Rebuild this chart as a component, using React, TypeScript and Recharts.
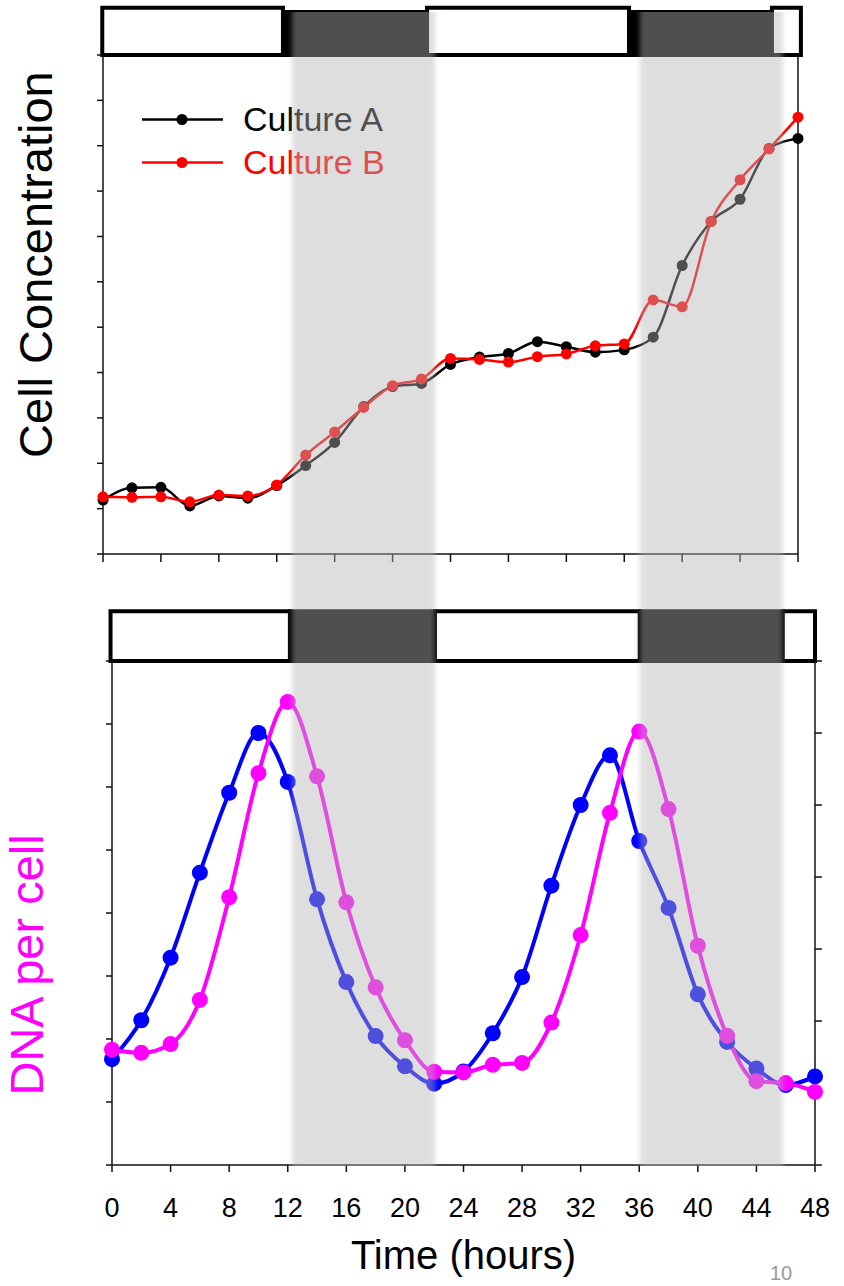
import React from 'react';
import { ComposedChart, Line, XAxis, YAxis, ReferenceArea, Legend } from 'recharts';

// sampling times (hours)
const hours = [0, 2, 4, 6, 8, 10, 12, 14, 16, 18, 20, 22, 24, 26, 28, 30, 32, 34, 36, 38, 40, 42, 44, 46, 48];

// top panel: cell concentration (arbitrary units)
const cultureA = [1.19, 1.46, 1.47, 1.06, 1.28, 1.23, 1.51, 1.95, 2.46, 3.25, 3.69, 3.76, 4.18, 4.34, 4.42, 4.68, 4.57, 4.45, 4.5, 4.78, 6.36, 7.33, 7.82, 8.94, 9.16];
const cultureB = [1.26, 1.25, 1.26, 1.15, 1.3, 1.28, 1.52, 2.18, 2.69, 3.23, 3.71, 3.86, 4.31, 4.29, 4.23, 4.35, 4.41, 4.59, 4.63, 5.6, 5.45, 7.33, 8.25, 8.93, 9.63];

// bottom panel: DNA per cell (left axis) and the blue trace (right axis)
const dnaPerCell = [1.83, 1.78, 1.92, 2.62, 4.25, 6.22, 7.35, 6.17, 4.17, 2.82, 1.98, 1.48, 1.47, 1.59, 1.62, 2.26, 3.65, 5.59, 6.88, 5.65, 3.48, 2.05, 1.33, 1.3, 1.16];
const blueTrace = [1.47, 2.01, 2.88, 4.06, 5.17, 6.0, 5.32, 3.69, 2.54, 1.79, 1.37, 1.13, 1.3, 1.83, 2.61, 3.88, 5.0, 5.69, 4.5, 3.57, 2.37, 1.71, 1.34, 1.11, 1.23];

const timeTicks = [0, 4, 8, 12, 16, 20, 24, 28, 32, 36, 40, 44, 48];
const concTicks = [0, 1, 2, 3, 4, 5, 6, 7, 8, 9, 10, 11];
const dnaTicks = [0, 1, 2, 3, 4, 5, 6, 7, 8];
const blueTicks = [0, 1, 2, 3, 4, 5, 6, 7];

// light / dark schedule bars (hours)
const topSchedule = [
  { from: -0.05, to: 12.43, dark: false },
  { from: 12.43, to: 22.38, dark: true },
  { from: 22.38, to: 36.33, dark: false },
  { from: 36.33, to: 46.2, dark: true },
  { from: 46.2, to: 48.2, dark: false },
];
const bottomSchedule = [
  { from: -0.1, to: 12.15, dark: false },
  { from: 12.15, to: 22.05, dark: true },
  { from: 22.05, to: 36.04, dark: false },
  { from: 36.04, to: 45.8, dark: true },
  { from: 45.8, to: 48, dark: false },
];
// shaded dark periods running through both panels
const darkPeriods = [
  { from: 12.29, to: 22.05 },
  { from: 36.04, to: 45.8 },
];

const FONT = '"Liberation Sans", Arial, Helvetica, sans-serif';
const AXIS = '#111';

const topData = hours.map((t, i) => ({ t, a: cultureA[i], b: cultureB[i] }));
const bottomData = hours.map((t, i) => ({ t, dna: dnaPerCell[i], blue: blueTrace[i] }));
const overlayData = hours.map((t) => ({ t, v: 0 }));

const noTickText = () => <g />;

const renderLegend = ({ payload }: any) => (
  <div style={{ fontFamily: FONT }}>
    {(payload || []).map((entry: any) => (
      <div key={entry.value} style={{ display: 'flex', alignItems: 'center', height: 43 }}>
        <svg width={82} height={43}>
          <line x1={0} x2={81} y1={21.5} y2={21.5} stroke={entry.color} strokeWidth={2.5} />
          <circle cx={40} cy={21.5} r={5.5} fill={entry.color} />
        </svg>
        <span style={{ marginLeft: 19, fontSize: 34, color: entry.color, lineHeight: '43px' }}>{entry.value}</span>
      </div>
    ))}
  </div>
);

const concLabel = ({ viewBox }: any) => {
  const x = viewBox.x + viewBox.width - 51;
  const y = viewBox.y + viewBox.height * 0.42;
  return (
    <text x={x} y={y} transform={`rotate(-90 ${x} ${y})`} textAnchor="middle" fontSize={47} fill="#000" fontFamily={FONT}>
      Cell Concentration
    </text>
  );
};

const dnaLabel = ({ viewBox }: any) => {
  const x = viewBox.x + viewBox.width - 69;
  const y = viewBox.y + viewBox.height * 0.603;
  return (
    <text x={x} y={y} transform={`rotate(-90 ${x} ${y})`} textAnchor="middle" fontSize={47} fill="#ff00ff" fontFamily={FONT}>
      DNA per cell
    </text>
  );
};

const timeLabel = ({ viewBox }: any) => (
  <g>
    <text x={viewBox.x + viewBox.width / 2} y={viewBox.y + 104} textAnchor="middle" fontSize={40} fill="#000" fontFamily={FONT}>
      Time (hours)
    </text>
    <text x={viewBox.x + viewBox.width - 34} y={viewBox.y + 115} textAnchor="middle" fontSize={20} fill="#999" fontFamily={FONT}>
      10
    </text>
  </g>
);

const bandShape = (props: any) => {
  const { x, y, width, height } = props;
  if (![x, y, width, height].every((v) => Number.isFinite(v))) return <g />;
  const id = `band-edge-${Math.round(x)}`;
  return (
    <g>
      <defs>
        <filter id={id} filterUnits="userSpaceOnUse" x={x - 15} y={y} width={width + 30} height={height}>
          <feGaussianBlur stdDeviation="2.5 0" />
        </filter>
      </defs>
      <rect x={x} y={y} width={width} height={height} fill="#b4b4b4" fillOpacity={0.44} filter={`url(#${id})`} />
    </g>
  );
};

function TopPanel() {
  return (
    <ComposedChart width={844} height={582} data={topData} margin={{ top: 55, right: 40, bottom: 18, left: 93 }}>
      <XAxis
        type="number"
        dataKey="t"
        domain={[0, 48]}
        ticks={timeTicks}
        tick={noTickText}
        tickSize={8}
        height={10}
        axisLine={{ stroke: AXIS, strokeWidth: 1.5 }}
        tickLine={{ stroke: AXIS, strokeWidth: 1.5 }}
      />
      <YAxis
        yAxisId="l"
        domain={[0, 11]}
        ticks={concTicks}
        tick={noTickText}
        tickSize={6}
        width={10}
        axisLine={{ stroke: AXIS, strokeWidth: 1.5 }}
        tickLine={{ stroke: AXIS, strokeWidth: 1.5 }}
        label={concLabel}
      />
      <YAxis
        yAxisId="r"
        orientation="right"
        domain={[0, 11]}
        tick={false}
        tickLine={false}
        width={6}
        axisLine={{ stroke: AXIS, strokeWidth: 1.5 }}
      />
      {topSchedule.map((s) => (
        <ReferenceArea
          key={`ts-${s.from}`}
          yAxisId="l"
          x1={s.from}
          x2={s.to}
          y1={11}
          y2={s.dark ? 11.95 : 12.04}
          ifOverflow="visible"
          fill={s.dark ? '#000' : '#fff'}
          fillOpacity={1}
          stroke="#000"
          strokeWidth={4}
        />
      ))}
      <Line
        yAxisId="l"
        type="monotone"
        dataKey="a"
        name="Culture A"
        stroke="#000"
        strokeWidth={2.5}
        dot={{ r: 5.5, fill: '#000', stroke: '#000', strokeWidth: 0 }}
        activeDot={false}
        isAnimationActive={false}
      />
      <Line
        yAxisId="l"
        type="monotone"
        dataKey="b"
        name="Culture B"
        stroke="#ff0000"
        strokeWidth={2.5}
        dot={{ r: 5.5, fill: '#ff0000', stroke: '#ff0000', strokeWidth: 0 }}
        activeDot={false}
        isAnimationActive={false}
      />
      <Legend
        layout="vertical"
        align="center"
        verticalAlign="middle"
        wrapperStyle={{ left: 142, top: 98, width: 300 }}
        content={renderLegend}
      />
    </ComposedChart>
  );
}

function BottomPanel() {
  return (
    <ComposedChart width={844} height={704} data={bottomData} margin={{ top: 79, right: 19, bottom: 61, left: 102 }}>
      <XAxis
        type="number"
        dataKey="t"
        domain={[0, 48]}
        ticks={timeTicks}
        interval={0}
        tick={{ fontSize: 27, fill: '#000', fontFamily: FONT }}
        tickSize={7}
        tickMargin={26}
        height={60}
        axisLine={{ stroke: AXIS, strokeWidth: 1.5 }}
        tickLine={{ stroke: AXIS, strokeWidth: 1.5 }}
        label={timeLabel}
      />
      <YAxis
        yAxisId="l"
        domain={[0, 8]}
        ticks={dnaTicks}
        tick={noTickText}
        tickSize={6}
        width={10}
        axisLine={{ stroke: AXIS, strokeWidth: 1.5 }}
        tickLine={{ stroke: AXIS, strokeWidth: 1.5 }}
        label={dnaLabel}
      />
      <YAxis
        yAxisId="r"
        orientation="right"
        domain={[0, 7]}
        ticks={blueTicks}
        tick={noTickText}
        tickSize={7}
        width={10}
        axisLine={{ stroke: AXIS, strokeWidth: 1.5 }}
        tickLine={{ stroke: AXIS, strokeWidth: 1.5 }}
      />
      {bottomSchedule.map((s) => (
        <ReferenceArea
          key={`bs-${s.from}`}
          yAxisId="l"
          x1={s.from}
          x2={s.to}
          y1={8}
          y2={8.79}
          ifOverflow="visible"
          fill={s.dark ? '#000' : '#fff'}
          fillOpacity={1}
          stroke="#000"
          strokeWidth={4}
        />
      ))}
      <Line
        yAxisId="r"
        type="monotone"
        dataKey="blue"
        name="Blue trace"
        stroke="#0000ff"
        strokeWidth={4}
        dot={{ r: 8, fill: '#0000ff', stroke: '#0000ff', strokeWidth: 0 }}
        activeDot={false}
        isAnimationActive={false}
      />
      <Line
        yAxisId="l"
        type="monotone"
        dataKey="dna"
        name="DNA per cell"
        stroke="#ff00ff"
        strokeWidth={4}
        dot={{ r: 8, fill: '#ff00ff', stroke: '#ff00ff', strokeWidth: 0 }}
        activeDot={false}
        isAnimationActive={false}
      />
    </ComposedChart>
  );
}

function DarkOverlay() {
  return (
    <ComposedChart width={844} height={1286} data={overlayData} margin={{ top: 12, right: 29, bottom: 120, left: 112 }}>
      <XAxis type="number" dataKey="t" domain={[0, 48]} hide />
      <YAxis yAxisId="o" type="number" domain={[0, 1]} allowDataOverflow hide />
      <Line yAxisId="o" dataKey="v" stroke="none" dot={false} activeDot={false} isAnimationActive={false} />
      {darkPeriods.map((p) => (
        <ReferenceArea
          key={`dp-${p.from}`}
          yAxisId="o"
          x1={p.from}
          x2={p.to}
          y1={0}
          y2={1}
          ifOverflow="visible"
          fill="#b4b4b4"
          fillOpacity={0.44}
          shape={bandShape}
        />
      ))}
    </ComposedChart>
  );
}

export default function App() {
  return (
    <div style={{ position: 'absolute', left: 0, top: 0, width: 844, height: 1286, background: '#fff', fontFamily: FONT, overflow: 'hidden' }}>
      <div style={{ position: 'absolute', left: 0, top: 0 }}>
        <TopPanel />
      </div>
      <div style={{ position: 'absolute', left: 0, top: 582 }}>
        <BottomPanel />
      </div>
      <div style={{ position: 'absolute', left: 0, top: 0, pointerEvents: 'none' }}>
        <DarkOverlay />
      </div>
    </div>
  );
}
